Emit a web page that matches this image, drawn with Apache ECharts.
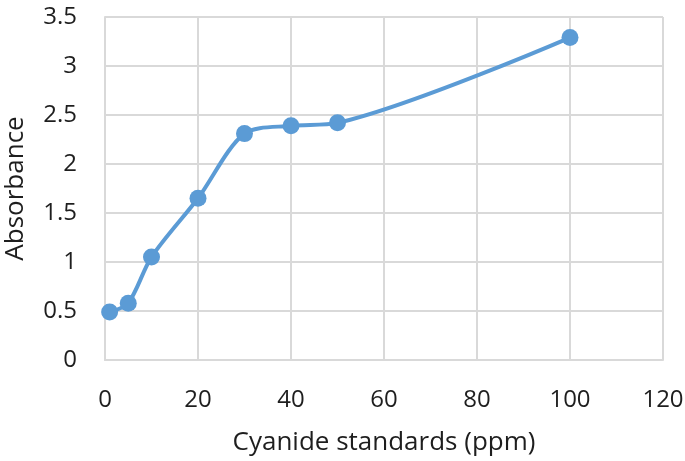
<!DOCTYPE html>
<html>
<head>
<meta charset="utf-8">
<script src="https://cdn.jsdelivr.net/npm/echarts@6/dist/echarts.min.js"></script>
<style>
  html, body { margin: 0; padding: 0; background: #fff; }
  #chart { width: 685px; height: 461px; }
</style>
</head>
<body>
<div id="chart"></div>
<script>
// concentrations (ppm) and absorbance
var ppm = [1, 5, 10, 20, 30, 40, 50, 100];
var absorbance = [0.49, 0.58, 1.05, 1.65, 2.31, 2.39, 2.42, 3.29];

var labelColor = '#1e1e1e';
var gridColor = '#D9D9D9';
var font = '"Open Sans", sans-serif';

var points = ppm.map(function (x, i) { return [x, absorbance[i]]; });

var chart = echarts.init(document.getElementById('chart'));
chart.setOption({
  backgroundColor: '#fff',
  animation: false,
  grid: { left: 105, right: 22, top: 17, bottom: 101, outerBoundsMode: 'none', containLabel: false },
  xAxis: {
    type: 'value',
    min: 0, max: 120, interval: 20,
    name: 'Cyanide standards (ppm)',
    nameLocation: 'middle',
    nameGap: 70,
    nameTextStyle: { color: labelColor, fontSize: 26, fontFamily: font },
    axisLine: { show: true, lineStyle: { color: gridColor, width: 2 } },
    axisTick: { show: false },
    axisLabel: { color: labelColor, fontSize: 24, fontFamily: font, margin: 28 },
    splitLine: { show: true, lineStyle: { color: gridColor, width: 2 } }
  },
  yAxis: {
    type: 'value',
    min: 0, max: 3.5, interval: 0.5,
    name: 'Absorbance',
    nameLocation: 'middle',
    nameGap: 76,
    nameRotate: 90,
    nameTextStyle: { color: labelColor, fontSize: 26, fontFamily: font },
    axisLine: { show: true, lineStyle: { color: gridColor, width: 2 } },
    axisTick: { show: false },
    axisLabel: { color: labelColor, fontSize: 24, fontFamily: font, margin: 28 },
    splitLine: { show: true, lineStyle: { color: gridColor, width: 2 } }
  },
  series: [{
    type: 'line',
    data: points,
    smooth: 0.3,
    symbol: 'circle',
    symbolSize: 17,
    itemStyle: { color: '#5B9BD5' },
    lineStyle: { color: '#5B9BD5', width: 4 }
  }]
});
</script>
</body>
</html>
